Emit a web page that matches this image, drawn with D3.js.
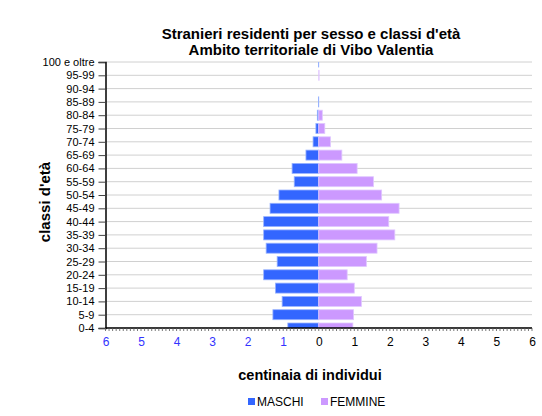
<!DOCTYPE html>
<html><head><meta charset="utf-8">
<script src="https://cdn.jsdelivr.net/npm/d3@7"></script>
<style>body{margin:0;background:#fff;font-family:"Liberation Sans",Arial,sans-serif}</style>
</head><body><svg id="c" width="542" height="416"></svg>
<script>
const categories = ["0-4","5-9","10-14","15-19","20-24","25-29","30-34","35-39","40-44","45-49","50-54","55-59","60-64","65-69","70-74","75-79","80-84","85-89","90-94","95-99","100 e oltre"];
const maschi = [0.87,1.29,1.03,1.22,1.55,1.17,1.48,1.55,1.55,1.37,1.12,0.69,0.75,0.36,0.16,0.08,0.04,0.01,0,0,0.01];
const femmine = [0.96,0.98,1.20,1.00,0.80,1.34,1.64,2.14,1.97,2.26,1.77,1.54,1.08,0.65,0.33,0.17,0.10,0,0,0.01,0];
const xTicks = [-6,-5,-4,-3,-2,-1,0,1,2,3,4,5,6];
const titleLines = ["Stranieri residenti per sesso e classi d'età","Ambito territoriale di Vibo Valentia"];

const svg = d3.select("#c");
const L = 105.5, R = 532, T = 62, B = 328;
const x = d3.scaleLinear().domain([-6,6]).range([L,R]);
const y = d3.scalePoint().domain(categories).range([B,T]);
const bh = 10;

svg.append("defs").append("clipPath").attr("id","pa").append("rect")
  .attr("x",L).attr("y",T).attr("width",R-L).attr("height",B-T);

// gridlines
svg.append("g").selectAll("line").data(categories).join("line")
  .attr("x1",L).attr("x2",R).attr("y1",d=>y(d)).attr("y2",d=>y(d))
  .attr("stroke","#d0d0d0").attr("stroke-width",1);

const g = svg.append("g").attr("clip-path","url(#pa)");
g.selectAll("rect.m").data(categories).join("rect").attr("class","m")
  .attr("x",(d,i)=>x(-maschi[i])).attr("width",(d,i)=>x(0)-x(-maschi[i]))
  .attr("y",d=>y(d)-bh/2).attr("height",bh)
  .attr("fill","#3366ff").attr("stroke","#99b3ff").attr("stroke-width",0.8);
g.selectAll("rect.f").data(categories).join("rect").attr("class","f")
  .attr("x",x(0)).attr("width",(d,i)=>x(femmine[i])-x(0))
  .attr("y",d=>y(d)-bh/2).attr("height",bh)
  .attr("fill","#cc99ff").attr("stroke","#e0c8ff").attr("stroke-width",0.8);

// y axis
const ya = svg.append("g").attr("transform",`translate(${L},0)`)
  .call(d3.axisLeft(y).tickSize(7).tickPadding(4));
ya.select(".domain").attr("stroke","#000").attr("stroke-width",1.5);
ya.selectAll(".tick line").attr("stroke","#444");
ya.selectAll("text").attr("font-size",11).attr("font-family","Liberation Sans, Arial").attr("fill","#000");

// x axis
const xa = svg.append("g").attr("transform",`translate(0,${B})`)
  .call(d3.axisBottom(x).tickValues(xTicks).tickSize(0).tickPadding(9).tickFormat(d=>Math.abs(d)));
xa.select(".domain").remove();
xa.selectAll("text").attr("font-size",12).attr("font-family","Liberation Sans, Arial")
  .attr("fill",d=>d<0?"#3333ff":"#000");
svg.append("line").attr("x1",L).attr("x2",R).attr("y1",B).attr("y2",B).attr("stroke","#000").attr("stroke-width",1.5);
const minor = d3.range(-60,61).map(v=>v/10);
svg.append("g").selectAll("line").data(minor).join("line")
  .attr("x1",d=>x(d)).attr("x2",d=>x(d)).attr("y1",B).attr("y2",B+3)
  .attr("stroke","#555").attr("stroke-width",0.8);

// titles
svg.append("g").selectAll("text").data(titleLines).join("text")
  .attr("x",311).attr("y",(d,i)=>38.5+i*16.5).attr("text-anchor","middle")
  .attr("font-size",15).attr("font-weight","bold").text(d=>d);
svg.append("text").attr("transform","translate(50,202) rotate(-90)").attr("text-anchor","middle")
  .attr("font-size",15).attr("font-weight","bold").text("classi d'età");
svg.append("text").attr("x",310).attr("y",380).attr("text-anchor","middle")
  .attr("font-size",14.5).attr("font-weight","bold").text("centinaia di individui");

// legend
const leg = [["MASCHI","#3366ff",248],["FEMMINE","#cc99ff",321]];
const lg = svg.append("g").selectAll("g").data(leg).join("g");
lg.append("rect").attr("x",d=>d[2]).attr("y",398).attr("width",7).attr("height",7).attr("fill",d=>d[1]);
lg.append("text").attr("x",d=>d[2]+9).attr("y",406).attr("font-size",12).text(d=>d[0]);
</script></body></html>
